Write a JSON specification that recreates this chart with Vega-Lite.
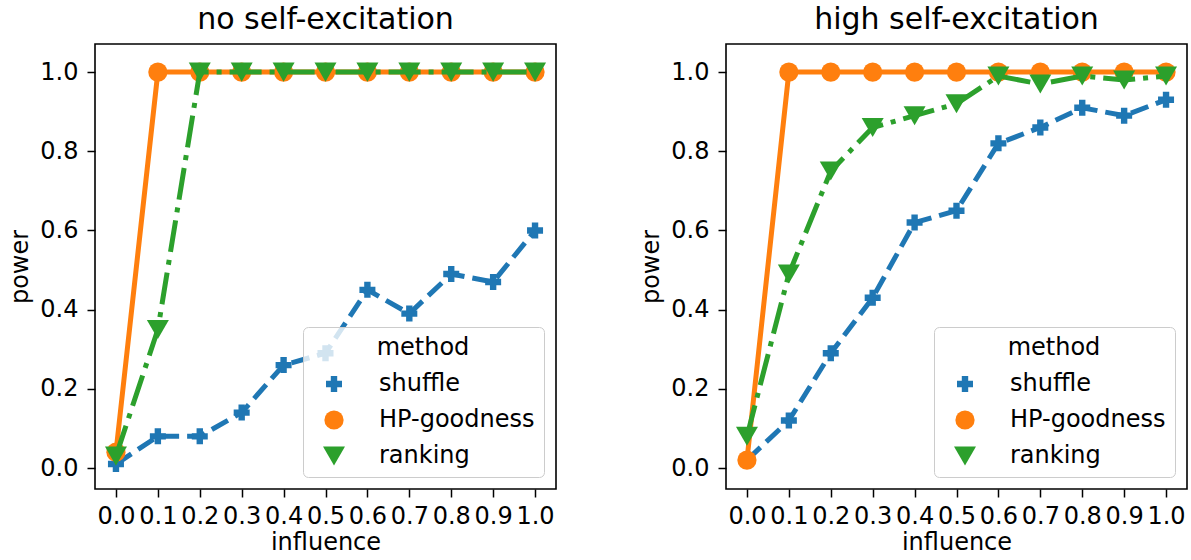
{
  "$schema": "https://vega.github.io/schema/vega-lite/v6.json",
  "padding": {"left": 8, "top": 4, "right": 5, "bottom": 2},
  "background": "white",
  "config": {
    "font": "DejaVu Sans",
    "view": {"stroke": "black", "strokeWidth": 1.6},
    "axis": {
      "grid": false, "domain": false, "tickColor": "black", "tickWidth": 1.5, "tickSize": 8,
      "labelFont": "DejaVu Sans", "labelFontSize": 24, "labelColor": "black", "labelPadding": 9,
      "titleFont": "DejaVu Sans", "titleFontSize": 24, "titleFontWeight": "normal", "titleColor": "black",
      "labelOverlap": false, "labelFlush": false
    },
    "title": {"font": "DejaVu Sans", "fontSize": 30, "fontWeight": "normal", "color": "black", "baseline": "alphabetic", "offset": 9},
    "legend": {
      "orient": "bottom-right", "offset": 12,
      "fillColor": "rgba(255,255,255,0.8)", "strokeColor": "#cccccc", "cornerRadius": 5, "padding": 9,
      "titleFont": "DejaVu Sans", "titleFontSize": 24, "titleFontWeight": "normal", "titleColor": "black", "titleAnchor": "middle", "titlePadding": 12,
      "labelFont": "DejaVu Sans", "labelFontSize": 24, "labelColor": "black", "rowPadding": 12,
      "symbolOffset": 10, "labelOffset": 33, "symbolStrokeWidth": 0
    }
  },
  "data": {"values": [
    {"panel": "no", "method": "shuffle", "influence": 0.0, "power": 0.01},
    {"panel": "no", "method": "shuffle", "influence": 0.1, "power": 0.08},
    {"panel": "no", "method": "shuffle", "influence": 0.2, "power": 0.08},
    {"panel": "no", "method": "shuffle", "influence": 0.3, "power": 0.14},
    {"panel": "no", "method": "shuffle", "influence": 0.4, "power": 0.26},
    {"panel": "no", "method": "shuffle", "influence": 0.5, "power": 0.29},
    {"panel": "no", "method": "shuffle", "influence": 0.6, "power": 0.45},
    {"panel": "no", "method": "shuffle", "influence": 0.7, "power": 0.39},
    {"panel": "no", "method": "shuffle", "influence": 0.8, "power": 0.49},
    {"panel": "no", "method": "shuffle", "influence": 0.9, "power": 0.47},
    {"panel": "no", "method": "shuffle", "influence": 1.0, "power": 0.60},
    {"panel": "no", "method": "HP-goodness", "influence": 0.0, "power": 0.04},
    {"panel": "no", "method": "HP-goodness", "influence": 0.1, "power": 1.0},
    {"panel": "no", "method": "HP-goodness", "influence": 0.2, "power": 1.0},
    {"panel": "no", "method": "HP-goodness", "influence": 0.3, "power": 1.0},
    {"panel": "no", "method": "HP-goodness", "influence": 0.4, "power": 1.0},
    {"panel": "no", "method": "HP-goodness", "influence": 0.5, "power": 1.0},
    {"panel": "no", "method": "HP-goodness", "influence": 0.6, "power": 1.0},
    {"panel": "no", "method": "HP-goodness", "influence": 0.7, "power": 1.0},
    {"panel": "no", "method": "HP-goodness", "influence": 0.8, "power": 1.0},
    {"panel": "no", "method": "HP-goodness", "influence": 0.9, "power": 1.0},
    {"panel": "no", "method": "HP-goodness", "influence": 1.0, "power": 1.0},
    {"panel": "no", "method": "ranking", "influence": 0.0, "power": 0.03},
    {"panel": "no", "method": "ranking", "influence": 0.1, "power": 0.35},
    {"panel": "no", "method": "ranking", "influence": 0.2, "power": 1.0},
    {"panel": "no", "method": "ranking", "influence": 0.3, "power": 1.0},
    {"panel": "no", "method": "ranking", "influence": 0.4, "power": 1.0},
    {"panel": "no", "method": "ranking", "influence": 0.5, "power": 1.0},
    {"panel": "no", "method": "ranking", "influence": 0.6, "power": 1.0},
    {"panel": "no", "method": "ranking", "influence": 0.7, "power": 1.0},
    {"panel": "no", "method": "ranking", "influence": 0.8, "power": 1.0},
    {"panel": "no", "method": "ranking", "influence": 0.9, "power": 1.0},
    {"panel": "no", "method": "ranking", "influence": 1.0, "power": 1.0},
    {"panel": "high", "method": "shuffle", "influence": 0.0, "power": 0.02},
    {"panel": "high", "method": "shuffle", "influence": 0.1, "power": 0.12},
    {"panel": "high", "method": "shuffle", "influence": 0.2, "power": 0.29},
    {"panel": "high", "method": "shuffle", "influence": 0.3, "power": 0.43},
    {"panel": "high", "method": "shuffle", "influence": 0.4, "power": 0.62},
    {"panel": "high", "method": "shuffle", "influence": 0.5, "power": 0.65},
    {"panel": "high", "method": "shuffle", "influence": 0.6, "power": 0.82},
    {"panel": "high", "method": "shuffle", "influence": 0.7, "power": 0.86},
    {"panel": "high", "method": "shuffle", "influence": 0.8, "power": 0.91},
    {"panel": "high", "method": "shuffle", "influence": 0.9, "power": 0.89},
    {"panel": "high", "method": "shuffle", "influence": 1.0, "power": 0.93},
    {"panel": "high", "method": "HP-goodness", "influence": 0.0, "power": 0.02},
    {"panel": "high", "method": "HP-goodness", "influence": 0.1, "power": 1.0},
    {"panel": "high", "method": "HP-goodness", "influence": 0.2, "power": 1.0},
    {"panel": "high", "method": "HP-goodness", "influence": 0.3, "power": 1.0},
    {"panel": "high", "method": "HP-goodness", "influence": 0.4, "power": 1.0},
    {"panel": "high", "method": "HP-goodness", "influence": 0.5, "power": 1.0},
    {"panel": "high", "method": "HP-goodness", "influence": 0.6, "power": 1.0},
    {"panel": "high", "method": "HP-goodness", "influence": 0.7, "power": 1.0},
    {"panel": "high", "method": "HP-goodness", "influence": 0.8, "power": 1.0},
    {"panel": "high", "method": "HP-goodness", "influence": 0.9, "power": 1.0},
    {"panel": "high", "method": "HP-goodness", "influence": 1.0, "power": 1.0},
    {"panel": "high", "method": "ranking", "influence": 0.0, "power": 0.08},
    {"panel": "high", "method": "ranking", "influence": 0.1, "power": 0.49},
    {"panel": "high", "method": "ranking", "influence": 0.2, "power": 0.75},
    {"panel": "high", "method": "ranking", "influence": 0.3, "power": 0.86},
    {"panel": "high", "method": "ranking", "influence": 0.4, "power": 0.89},
    {"panel": "high", "method": "ranking", "influence": 0.5, "power": 0.92},
    {"panel": "high", "method": "ranking", "influence": 0.6, "power": 0.99},
    {"panel": "high", "method": "ranking", "influence": 0.7, "power": 0.97},
    {"panel": "high", "method": "ranking", "influence": 0.8, "power": 0.99},
    {"panel": "high", "method": "ranking", "influence": 0.9, "power": 0.98},
    {"panel": "high", "method": "ranking", "influence": 1.0, "power": 0.99}
  ]},
  "spacing": 82,
  "resolve": {"scale": {"color": "independent", "shape": "independent", "size": "independent"}},
  "hconcat": [
    {
      "title": "no self-excitation",
      "width": 461, "height": 445,
      "transform": [{"filter": "datum.panel === 'no'"}],
      "encoding": {
        "x": {"field": "influence", "type": "quantitative", "title": "influence",
              "scale": {"domain": [-0.05, 1.05], "nice": false, "zero": false},
              "axis": {"values": [0, 0.1, 0.2, 0.3, 0.4, 0.5, 0.6, 0.7, 0.8, 0.9, 1.0], "format": ".1f", "labelPadding": 7, "titlePadding": 2}},
        "y": {"field": "power", "type": "quantitative", "title": "power",
              "scale": {"domain": [-0.053, 1.071], "nice": false, "zero": false},
              "axis": {"values": [0, 0.2, 0.4, 0.6, 0.8, 1.0], "format": ".1f", "titlePadding": 7}}
      },
      "layer": [
        {"transform": [{"filter": "datum.method === 'shuffle'"}], "mark": {"type": "line", "color": "#1f77b4", "strokeWidth": 5, "strokeDash": [18.5, 8]}},
        {"transform": [{"filter": "datum.method === 'shuffle'"}], "mark": {"type": "point", "filled": true, "opacity": 1},
         "encoding": {
           "color": {"field": "method", "type": "nominal", "title": "method", "scale": {"domain": ["shuffle", "HP-goodness", "ranking"], "range": ["#1f77b4", "#ff7f0e", "#2ca02c"]}},
           "shape": {"field": "method", "type": "nominal", "title": "method", "scale": {"domain": ["shuffle", "HP-goodness", "ranking"], "range": ["cross", "circle", "triangle-down"]}},
           "size": {"field": "method", "type": "nominal", "title": "method", "scale": {"domain": ["shuffle", "HP-goodness", "ranking"], "range": [256, 484, 484]}}
         }},
        {"transform": [{"filter": "datum.method === 'HP-goodness'"}], "mark": {"type": "line", "color": "#ff7f0e", "strokeWidth": 5}},
        {"transform": [{"filter": "datum.method === 'HP-goodness'"}], "mark": {"type": "point", "filled": true, "opacity": 1},
         "encoding": {
           "color": {"field": "method", "type": "nominal", "title": "method", "scale": {"domain": ["shuffle", "HP-goodness", "ranking"], "range": ["#1f77b4", "#ff7f0e", "#2ca02c"]}},
           "shape": {"field": "method", "type": "nominal", "title": "method", "scale": {"domain": ["shuffle", "HP-goodness", "ranking"], "range": ["cross", "circle", "triangle-down"]}},
           "size": {"field": "method", "type": "nominal", "title": "method", "scale": {"domain": ["shuffle", "HP-goodness", "ranking"], "range": [256, 484, 484]}}
         }},
        {"transform": [{"filter": "datum.method === 'ranking'"}], "mark": {"type": "line", "color": "#2ca02c", "strokeWidth": 5, "strokeDash": [32, 8, 5, 8]}},
        {"transform": [{"filter": "datum.method === 'ranking'"}], "mark": {"type": "point", "filled": true, "opacity": 1},
         "encoding": {
           "color": {"field": "method", "type": "nominal", "title": "method", "scale": {"domain": ["shuffle", "HP-goodness", "ranking"], "range": ["#1f77b4", "#ff7f0e", "#2ca02c"]}},
           "shape": {"field": "method", "type": "nominal", "title": "method", "scale": {"domain": ["shuffle", "HP-goodness", "ranking"], "range": ["cross", "circle", "triangle-down"]}},
           "size": {"field": "method", "type": "nominal", "title": "method", "scale": {"domain": ["shuffle", "HP-goodness", "ranking"], "range": [256, 484, 484]}}
         }}
      ]
    },
    {
      "title": "high self-excitation",
      "width": 461, "height": 445,
      "transform": [{"filter": "datum.panel === 'high'"}],
      "encoding": {
        "x": {"field": "influence", "type": "quantitative", "title": "influence",
              "scale": {"domain": [-0.05, 1.05], "nice": false, "zero": false},
              "axis": {"values": [0, 0.1, 0.2, 0.3, 0.4, 0.5, 0.6, 0.7, 0.8, 0.9, 1.0], "format": ".1f", "labelPadding": 7, "titlePadding": 2}},
        "y": {"field": "power", "type": "quantitative", "title": "power",
              "scale": {"domain": [-0.053, 1.071], "nice": false, "zero": false},
              "axis": {"values": [0, 0.2, 0.4, 0.6, 0.8, 1.0], "format": ".1f", "titlePadding": 7}}
      },
      "layer": [
        {"transform": [{"filter": "datum.method === 'shuffle'"}], "mark": {"type": "line", "color": "#1f77b4", "strokeWidth": 5, "strokeDash": [18.5, 8]}},
        {"transform": [{"filter": "datum.method === 'shuffle'"}], "mark": {"type": "point", "filled": true, "opacity": 1},
         "encoding": {
           "color": {"field": "method", "type": "nominal", "title": "method", "scale": {"domain": ["shuffle", "HP-goodness", "ranking"], "range": ["#1f77b4", "#ff7f0e", "#2ca02c"]}},
           "shape": {"field": "method", "type": "nominal", "title": "method", "scale": {"domain": ["shuffle", "HP-goodness", "ranking"], "range": ["cross", "circle", "triangle-down"]}},
           "size": {"field": "method", "type": "nominal", "title": "method", "scale": {"domain": ["shuffle", "HP-goodness", "ranking"], "range": [256, 484, 484]}}
         }},
        {"transform": [{"filter": "datum.method === 'HP-goodness'"}], "mark": {"type": "line", "color": "#ff7f0e", "strokeWidth": 5}},
        {"transform": [{"filter": "datum.method === 'HP-goodness'"}], "mark": {"type": "point", "filled": true, "opacity": 1},
         "encoding": {
           "color": {"field": "method", "type": "nominal", "title": "method", "scale": {"domain": ["shuffle", "HP-goodness", "ranking"], "range": ["#1f77b4", "#ff7f0e", "#2ca02c"]}},
           "shape": {"field": "method", "type": "nominal", "title": "method", "scale": {"domain": ["shuffle", "HP-goodness", "ranking"], "range": ["cross", "circle", "triangle-down"]}},
           "size": {"field": "method", "type": "nominal", "title": "method", "scale": {"domain": ["shuffle", "HP-goodness", "ranking"], "range": [256, 484, 484]}}
         }},
        {"transform": [{"filter": "datum.method === 'ranking'"}], "mark": {"type": "line", "color": "#2ca02c", "strokeWidth": 5, "strokeDash": [32, 8, 5, 8]}},
        {"transform": [{"filter": "datum.method === 'ranking'"}], "mark": {"type": "point", "filled": true, "opacity": 1},
         "encoding": {
           "color": {"field": "method", "type": "nominal", "title": "method", "scale": {"domain": ["shuffle", "HP-goodness", "ranking"], "range": ["#1f77b4", "#ff7f0e", "#2ca02c"]}},
           "shape": {"field": "method", "type": "nominal", "title": "method", "scale": {"domain": ["shuffle", "HP-goodness", "ranking"], "range": ["cross", "circle", "triangle-down"]}},
           "size": {"field": "method", "type": "nominal", "title": "method", "scale": {"domain": ["shuffle", "HP-goodness", "ranking"], "range": [256, 484, 484]}}
         }}
      ]
    }
  ]
}
